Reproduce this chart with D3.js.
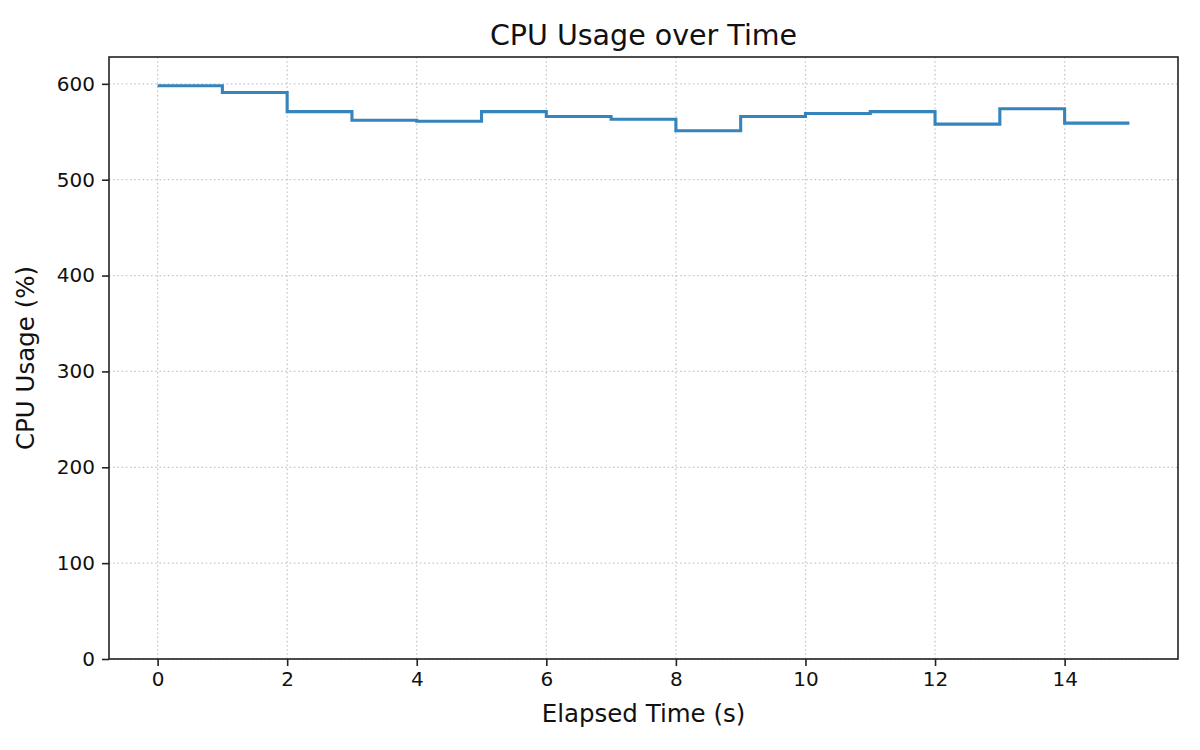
<!DOCTYPE html>
<html>
<head>
<meta charset="utf-8">
<script src="https://cdn.jsdelivr.net/npm/d3@7"></script>
<style>
  html, body { margin: 0; padding: 0; background: #fff; }
  svg { display: block; font-family: "DejaVu Sans", sans-serif; }
</style>
</head>
<body>
<svg></svg>
<script>
// elapsed seconds and CPU usage
const elapsed = [0, 1, 2, 3, 4, 5, 6, 7, 8, 9, 10, 11, 12, 13, 14, 15];
const cpuUsage = [598, 591, 571, 562, 561, 571, 566, 563, 551, 566, 569, 571, 558, 574, 559, 559];
const xTicks = [0, 2, 4, 6, 8, 10, 12, 14];
const yTicks = [0, 100, 200, 300, 400, 500, 600];

const width = 1200;
const height = 750;
const margin = { top: 57, right: 22, bottom: 91, left: 109 };

const svg = d3.select("svg")
    .attr("width", width)
    .attr("height", height);

const xScale = d3.scaleLinear()
    .domain([-0.75, 15.75])
    .range([margin.left, width - margin.right]);

const yScale = d3.scaleLinear()
    .domain([0, 628])
    .range([height - margin.bottom, margin.top]);

// dotted grid
const grid = svg.append("g")
    .attr("stroke", "#c8c8c8")
    .attr("stroke-width", 1.3)
    .attr("stroke-dasharray", "1.6,2.6");

grid.selectAll(".vgrid")
    .data(xTicks)
    .enter()
    .append("line")
    .attr("x1", d => xScale(d))
    .attr("x2", d => xScale(d))
    .attr("y1", margin.top)
    .attr("y2", height - margin.bottom);

grid.selectAll(".hgrid")
    .data(yTicks)
    .enter()
    .append("line")
    .attr("x1", margin.left)
    .attr("x2", width - margin.right)
    .attr("y1", d => yScale(d))
    .attr("y2", d => yScale(d));

// step line
const line = d3.line()
    .x((d, i) => xScale(elapsed[i]))
    .y(d => yScale(d))
    .curve(d3.curveStepAfter);

svg.append("path")
    .datum(cpuUsage)
    .attr("fill", "none")
    .attr("stroke", "#1f77b4")
    .attr("stroke-opacity", 0.9)
    .attr("stroke-width", 3.1)
    .attr("d", line);

// axes
const xAxis = d3.axisBottom(xScale)
    .tickValues(xTicks)
    .tickSize(7)
    .tickPadding(6)
    .tickSizeOuter(0);

const yAxis = d3.axisLeft(yScale)
    .tickValues(yTicks)
    .tickSize(7)
    .tickPadding(7)
    .tickSizeOuter(0);

const gx = svg.append("g")
    .attr("transform", `translate(0, ${height - margin.bottom})`)
    .call(xAxis);

const gy = svg.append("g")
    .attr("transform", `translate(${margin.left}, 0)`)
    .call(yAxis);

[gx, gy].forEach(g => {
  g.select(".domain").remove();
  g.selectAll(".tick line").attr("stroke", "#222").attr("stroke-width", 1.6);
  g.selectAll(".tick text")
      .attr("fill", "#111")
      .style("font-size", "20px")
      .style("font-family", "DejaVu Sans");
});

// frame
svg.append("rect")
    .attr("x", margin.left)
    .attr("y", margin.top)
    .attr("width", width - margin.left - margin.right)
    .attr("height", height - margin.top - margin.bottom)
    .attr("fill", "none")
    .attr("stroke", "#222")
    .attr("stroke-width", 1.6);

// texts
svg.append("text")
    .attr("x", (margin.left + width - margin.right) / 2)
    .attr("y", 45)
    .attr("text-anchor", "middle")
    .style("font-size", "28.5px")
    .attr("fill", "#111")
    .text("CPU Usage over Time");

svg.append("text")
    .attr("x", (margin.left + width - margin.right) / 2)
    .attr("y", 722)
    .attr("text-anchor", "middle")
    .style("font-size", "24.5px")
    .attr("fill", "#111")
    .text("Elapsed Time (s)");

svg.append("text")
    .attr("transform", `translate(34, ${(margin.top + height - margin.bottom) / 2}) rotate(-90)`)
    .attr("text-anchor", "middle")
    .style("font-size", "24.5px")
    .attr("fill", "#111")
    .text("CPU Usage (%)");
</script>
</body>
</html>
